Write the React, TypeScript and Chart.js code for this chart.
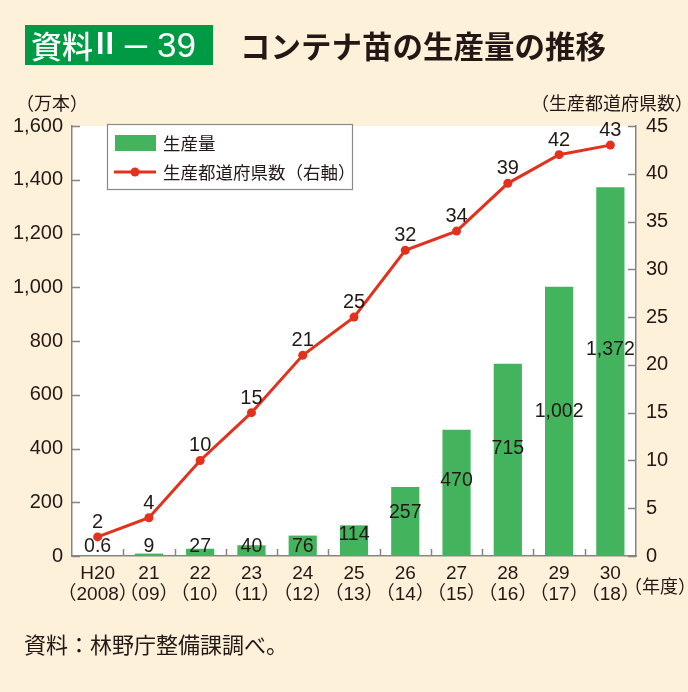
import React, { useEffect, useRef } from "react";
import { Chart, registerables } from "chart.js";
Chart.register(...registerables);

const categories: string[][] = [
  ["H20", "（2008）"],
  ["21", "（09）"],
  ["22", "（10）"],
  ["23", "（11）"],
  ["24", "（12）"],
  ["25", "（13）"],
  ["26", "（14）"],
  ["27", "（15）"],
  ["28", "（16）"],
  ["29", "（17）"],
  ["30", "（18）"],
];
const production = [0.6, 9, 27, 40, 76, 114, 257, 470, 715, 1002, 1372];
const productionLabels = ["0.6", "9", "27", "40", "76", "114", "257", "470", "715", "1,002", "1,372"];
// value (left-axis units) at which each production label is centred
const productionLabelAt = [34, 34, 34, 34, 36, 78, 160, 280, 400, 537, 768];
const prefectures = [2, 4, 10, 15, 21, 25, 32, 34, 39, 42, 43];
const leftTicks = [0, 200, 400, 600, 800, 1000, 1200, 1400, 1600];
const rightTicks = [0, 5, 10, 15, 20, 25, 30, 35, 40, 45];

const NUM = "'Liberation Sans', 'Noto Sans CJK JP', sans-serif";
const JP = "'Noto Sans CJK JP', sans-serif";
const BG = "#fdf1da";
const GREEN = "#43b35e";
const RED = "#e2321e";
const TXT = "#231815";
const AXIS = "#858585";

const decor = {
  id: "decor",
  beforeDraw(chart: any) {
    const { ctx, chartArea: a } = chart;
    ctx.save();
    ctx.fillStyle = BG;
    ctx.fillRect(0, 0, chart.width, chart.height);
    ctx.fillStyle = "#ffffff";
    ctx.fillRect(a.left, a.top, a.right - a.left, a.bottom - a.top);
    ctx.restore();
  },
  afterDatasetsDraw(chart: any) {
    const { ctx, chartArea: a } = chart;
    const x = chart.scales.x;
    const y = chart.scales.y;
    const y1 = chart.scales.y1;
    ctx.save();
    // inward tick marks
    ctx.strokeStyle = AXIS;
    ctx.lineWidth = 1.5;
    ctx.beginPath();
    leftTicks.forEach((v) => {
      const py = Math.round(y.getPixelForValue(v)) + 0.5;
      ctx.moveTo(a.left, py);
      ctx.lineTo(a.left + 8, py);
    });
    rightTicks.forEach((v) => {
      const py = Math.round(y1.getPixelForValue(v)) + 0.5;
      ctx.moveTo(a.right, py);
      ctx.lineTo(a.right - 8, py);
    });
    for (let i = 0; i < categories.length - 1; i++) {
      const px = Math.round((x.getPixelForValue(i) + x.getPixelForValue(i + 1)) / 2) + 0.5;
      ctx.moveTo(px, a.bottom);
      ctx.lineTo(px, a.bottom - 7);
    }
    ctx.stroke();

    // bar labels
    ctx.fillStyle = TXT;
    ctx.font = `19.5px ${NUM}`;
    ctx.textAlign = "center";
    ctx.textBaseline = "middle";
    production.forEach((v, i) => {
      ctx.fillText(productionLabels[i], x.getPixelForValue(i), y.getPixelForValue(productionLabelAt[i]));
    });
    // line labels
    ctx.font = `20px ${NUM}`;
    ctx.textBaseline = "alphabetic";
    prefectures.forEach((v, i) => {
      ctx.fillText(String(v), x.getPixelForValue(i), y1.getPixelForValue(v) - 9);
    });

    // legend
    ctx.fillStyle = "#ffffff";
    ctx.fillRect(107, 124, 245, 65);
    ctx.strokeStyle = "#8a8a8a";
    ctx.lineWidth = 1.2;
    ctx.strokeRect(107.5, 124.5, 245, 65);
    ctx.fillStyle = GREEN;
    ctx.fillRect(115, 135, 41, 16);
    ctx.strokeStyle = RED;
    ctx.lineWidth = 3;
    ctx.beginPath();
    ctx.moveTo(114, 172);
    ctx.lineTo(156, 172);
    ctx.stroke();
    ctx.fillStyle = RED;
    ctx.beginPath();
    ctx.arc(135, 172, 4.5, 0, Math.PI * 2);
    ctx.fill();
    ctx.fillStyle = TXT;
    ctx.font = `17.5px ${JP}`;
    ctx.textAlign = "left";
    ctx.textBaseline = "middle";
    ctx.fillText("生産量", 163, 143);
    ctx.fillText("生産都道府県数（右軸）", 163, 172);
    ctx.restore();
  },
  afterDraw(chart: any) {
    const { ctx } = chart;
    ctx.save();
    // title box
    ctx.fillStyle = "#009a44";
    ctx.fillRect(25, 25, 188, 40);
    ctx.fillStyle = "#ffffff";
    ctx.textBaseline = "middle";
    ctx.textAlign = "left";
    ctx.font = `500 31px ${JP}`;
    ctx.fillText("資料", 31, 46);
    ctx.textAlign = "center";
    ctx.font = `bold 29px ${NUM}`;
    ctx.fillText("Ⅱ", 105, 46);
    ctx.font = `500 31px ${JP}`;
    ctx.fillText("－", 136, 46);
    ctx.textAlign = "left";
    ctx.font = `35px ${NUM}`;
    ctx.fillText("39", 157, 47);
    // title
    ctx.fillStyle = TXT;
    ctx.font = `bold 30.5px ${JP}`;
    ctx.fillText("コンテナ苗の生産量の推移", 240, 46);
    // axis titles
    ctx.font = `18px ${JP}`;
    ctx.fillText("（万本）", 16, 103);
    ctx.textAlign = "right";
    ctx.fillText("（生産都道府県数）", 693, 103);
    ctx.textAlign = "left";
    ctx.fillText("（年度）", 624, 586);
    // source
    ctx.font = `22px ${JP}`;
    ctx.fillText("資料：林野庁整備課調べ。", 24, 645);
    ctx.restore();
  },
};

export default function App() {
  const ref = useRef<HTMLCanvasElement>(null);
  useEffect(() => {
    document.body.style.margin = "0";
    const chart = new Chart(ref.current!, {
      type: "bar",
      data: {
        labels: categories,
        datasets: [
          {
            type: "line",
            label: "生産都道府県数（右軸）",
            data: prefectures,
            yAxisID: "y1",
            borderColor: RED,
            backgroundColor: RED,
            borderWidth: 3,
            pointRadius: 4.5,
            pointBackgroundColor: RED,
            pointBorderWidth: 0,
            tension: 0,
            order: 0,
          } as any,
          {
            type: "bar",
            label: "生産量",
            data: production,
            yAxisID: "y",
            backgroundColor: GREEN,
            barPercentage: 0.55,
            categoryPercentage: 1,
            order: 1,
          },
        ],
      },
      options: {
        animation: false,
        responsive: false,
        devicePixelRatio: 1,
        layout: { padding: { top: 126, left: 0, right: 0, bottom: 0 } },
        plugins: { legend: { display: false }, tooltip: { enabled: false } },
        scales: {
          x: {
            grid: { display: false, drawTicks: false },
            border: { display: true, color: AXIS, width: 1.5 },
            ticks: {
              color: TXT,
              font: { family: NUM, size: 19, lineHeight: 1.1 },
              padding: 7,
              maxRotation: 0,
              autoSkip: false,
            },
            afterFit: (s: any) => {
              s.height = 136;
            },
          },
          y: {
            position: "left",
            min: 0,
            max: 1600,
            grid: { display: false, drawTicks: false },
            border: { display: true, color: AXIS, width: 1.5 },
            afterBuildTicks: (s: any) => {
              s.ticks = leftTicks.map((v) => ({ value: v }));
            },
            ticks: {
              color: TXT,
              font: { family: NUM, size: 20 },
              padding: 9,
              callback: (v: any) => Number(v).toLocaleString("en-US"),
            },
            afterFit: (s: any) => {
              s.width = 72;
            },
          },
          y1: {
            position: "right",
            min: 0,
            max: 45,
            grid: { display: false, drawTicks: false },
            border: { display: true, color: AXIS, width: 1.5 },
            afterBuildTicks: (s: any) => {
              s.ticks = rightTicks.map((v) => ({ value: v }));
            },
            ticks: {
              color: TXT,
              font: { family: NUM, size: 20 },
              padding: 10,
            },
            afterFit: (s: any) => {
              s.width = 52;
            },
          },
        },
      },
      plugins: [decor],
    });
    return () => chart.destroy();
  }, []);
  return (
    <canvas
      ref={ref}
      width={688}
      height={692}
      style={{ display: "block", width: 688, height: 692 }}
    />
  );
}
